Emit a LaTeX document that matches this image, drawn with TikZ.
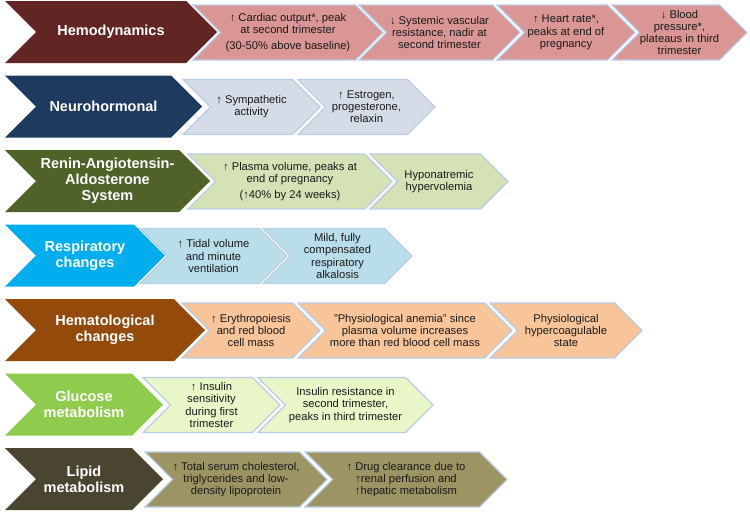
\documentclass[tikz,border=0pt]{standalone}
\usepackage{fontspec}
\setmainfont{Liberation Sans}
\usepackage{xcolor}
\definecolor{cHemo}{HTML}{632523}
\definecolor{cHemoL}{HTML}{DA9694}
\definecolor{cNeuro}{HTML}{1F3A5F}
\definecolor{cNeuroL}{HTML}{D5DCE8}
\definecolor{cRaas}{HTML}{4F6228}
\definecolor{cRaasL}{HTML}{D4E2B5}
\definecolor{cResp}{HTML}{00AEEF}
\definecolor{cRespL}{HTML}{B9DDE9}
\definecolor{cHema}{HTML}{934A0A}
\definecolor{cHemaL}{HTML}{F8C49A}
\definecolor{cGluc}{HTML}{8FCB4C}
\definecolor{cGlucL}{HTML}{E8F6C8}
\definecolor{cLipid}{HTML}{4A4530}
\definecolor{cLipidL}{HTML}{9C9463}
\definecolor{cEdge}{HTML}{BACDE6}
\definecolor{cInk}{HTML}{1A1A1A}
\usepackage{tikz}
\tikzset{
  chev-head/.style={fill=#1},
  chev-step/.style={fill=#1,draw=cEdge,line width=1.2pt,line join=miter},
  txt-head/.style={text=white,align=center,inner sep=0pt,
    font=\bfseries\fontsize{14.5}{16}\selectfont},
  txt-step/.style={text=cInk,align=center,inner sep=0pt,
    font=\fontsize{11.2}{12.2}\selectfont},
}
% chevron: name, shape style, text style, left x, tip x, top y, bottom y, text
\newcommand{\chev}[8]{%
  \path[#2] (#4,#6) -- ({#5-(#7-#6)/2},#6) -- (#5,{(#6+#7)/2})
    -- ({#5-(#7-#6)/2},#7) -- (#4,#7) -- ({#4+(#7-#6)/2},{(#6+#7)/2}) -- cycle;
  \node[#3] (#1) at ({(#4+#5)/2},{(#6+#7)/2}) {#8};
}

\begin{document}
\begin{tikzpicture}[x=1pt,y=-1pt]
  \useasboundingbox (0,0) rectangle (750,514);
  % hemodynamics
  \chev{hemo}{chev-head=cHemo}{txt-head}{5}{217}{1}{63}{Hemodynamics}
  \chev{hemo-co}{chev-step=cHemoL}{txt-step}{193}{383}{5}{60}
    {↑ Cardiac output*, peak\\at second trimester\\[4pt](30-50\% above baseline)}
  \chev{hemo-svr}{chev-step=cHemoL}{txt-step}{359}{520}{5}{60}
    {↓ Systemic vascular\\resistance, nadir at\\second trimester}
  \chev{hemo-hr}{chev-step=cHemoL}{txt-step}{497}{635}{5}{60}
    {↑ Heart rate*,\\peaks at end of\\pregnancy}
  \chev{hemo-bp}{chev-step=cHemoL}{txt-step}{612}{747}{5}{60}
    {↓ Blood\\pressure*,\\plateaus in third\\trimester}
  % neurohormonal
  \chev{neuro}{chev-head=cNeuro}{txt-head}{5}{202}{75.5}{137.5}{Neurohormonal}
  \chev{neuro-sym}{chev-step=cNeuroL}{txt-step}{183}{320}{79.5}{134.5}
    {↑ Sympathetic\\activity}
  \chev{neuro-est}{chev-step=cNeuroL}{txt-step}{298}{435}{79.5}{134.5}
    {↑ Estrogen,\\progesterone,\\relaxin}
  % renin-angiotensin-aldosterone
  \chev{raas}{chev-head=cRaas}{txt-head}{5}{210}{150}{212}
    {Renin-Angiotensin-\\Aldosterone\\System}
  \chev{raas-pv}{chev-step=cRaasL}{txt-step}{188}{392}{154}{209}
    {↑ Plasma volume, peaks at\\end of pregnancy\\[4pt](↑40\% by 24 weeks)}
  \chev{raas-hyp}{chev-step=cRaasL}{txt-step}{370}{508}{154}{209}
    {Hyponatremic\\hypervolemia}
  % respiratory
  \chev{resp}{chev-head=cResp}{txt-head}{5}{165}{224.5}{286.5}
    {Respiratory\\changes}
  \chev{resp-tv}{chev-step=cRespL}{txt-step}{140}{287}{228.5}{283.5}
    {↑ Tidal volume\\and minute\\ventilation}
  \chev{resp-alk}{chev-step=cRespL}{txt-step}{263}{412}{228.5}{283.5}
    {Mild, fully\\compensated\\respiratory\\alkalosis}
  % hematological
  \chev{hema}{chev-head=cHema}{txt-head}{5}{205}{299}{361}
    {Hematological\\changes}
  \chev{hema-ery}{chev-step=cHemaL}{txt-step}{182}{320}{303}{358}
    {↑ Erythropoiesis\\and red blood\\cell mass}
  \chev{hema-ane}{chev-step=cHemaL}{txt-step}{298}{512}{303}{358}
    {"Physiological anemia" since\\plasma volume increases\\more than red blood cell mass}
  \chev{hema-coag}{chev-step=cHemaL}{txt-step}{490}{642}{303}{358}
    {Physiological\\hypercoagulable\\state}
  % glucose
  \chev{gluc}{chev-head=cGluc}{txt-head}{5}{163}{373.5}{435.5}
    {Glucose\\metabolism}
  \chev{gluc-sens}{chev-step=cGlucL}{txt-step}{143}{280}{377.5}{432.5}
    {↑ Insulin\\sensitivity\\during first\\trimester}
  \chev{gluc-res}{chev-step=cGlucL}{txt-step}{258}{433}{377.5}{432.5}
    {Insulin resistance in\\second trimester,\\peaks in third trimester}
  % lipid
  \chev{lipid}{chev-head=cLipid}{txt-head}{5}{163}{448}{510}
    {Lipid\\metabolism}
  \chev{lipid-chol}{chev-step=cLipidL}{txt-step}{145}{327}{452}{507}
    {↑ Total serum cholesterol,\\triglycerides and low-\\density lipoprotein}
  \chev{lipid-drug}{chev-step=cLipidL}{txt-step}{305}{507}{452}{507}
    {↑ Drug clearance due to\\↑renal perfusion and\\↑hepatic metabolism}
\end{tikzpicture}
\end{document}
